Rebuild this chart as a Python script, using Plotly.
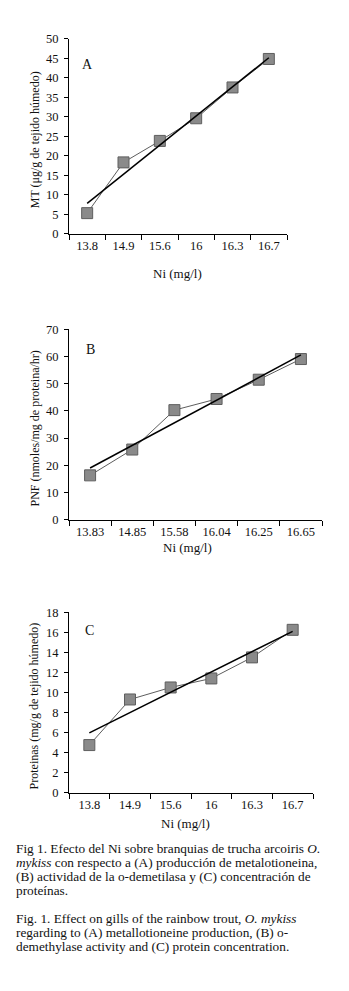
import plotly.graph_objects as go

# ---- data ----
cats_a = ["13.8", "14.9", "15.6", "16", "16.3", "16.7"]
mt_a = [5.3, 18.3, 23.8, 29.6, 37.5, 44.8]
trend_a = [7.8, 45.1]

cats_b = ["13.83", "14.85", "15.58", "16.04", "16.25", "16.65"]
pnf_b = [16.3, 25.8, 40.3, 44.4, 51.5, 59.1]
trend_b = [19.0, 60.6]

cats_c = ["13.8", "14.9", "15.6", "16", "16.3", "16.7"]
prot_c = [4.75, 9.3, 10.5, 11.4, 13.5, 16.25]
trend_c = [5.96, 16.1]

yticks_a = [0, 5, 10, 15, 20, 25, 30, 35, 40, 45, 50]
yticks_b = [0, 10, 20, 30, 40, 50, 60, 70]
yticks_c = [0, 2, 4, 6, 8, 10, 12, 14, 16, 18]

caption = [
    "Fig 1. Efecto del Ni sobre branquias de trucha arcoiris <i>O.</i>",
    "<i>mykiss</i> con respecto a (A) producción de metalotioneina,",
    "(B) actividad de la o-demetilasa y (C) concentración de",
    "proteínas.",
    "",
    "Fig. 1. Effect on gills of the rainbow trout, <i>O. mykiss</i>",
    "regarding to (A) metallotioneine production, (B) o-",
    "demethylase activity and (C) protein concentration.",
]

# page body has an 8px default margin: shrink the figure and shift coordinates
OFF = 8
W, H = 349 - 2 * OFF, 991 - 2 * OFF
FONT = "Liberation Serif, Times New Roman, serif"
INK = "#111111"


def px(xp):
    return (xp - OFF) / W


def py(yp):
    return 1 - (yp - OFF) / H


fig = go.Figure()

panels = [
    dict(cats=cats_a, vals=mt_a, trend=trend_a, ticks=yticks_a, rng=[0, 50],
         xd=[69, 287], yd=[32, 230], letter="A", ly=43.4,
         ytitle="MT (μg/g de tejido húmedo)", ytx=35, xt=(177, 270)),
    dict(cats=cats_b, vals=pnf_b, trend=trend_b, ticks=yticks_b, rng=[0, 70],
         xd=[69, 322], yd=[327, 520], letter="B", ly=62.5,
         ytitle="PNF (nmoles/mg de proteina/hr)", ytx=35, xt=(187, 548)),
    dict(cats=cats_c, vals=prot_c, trend=trend_c, ticks=yticks_c, rng=[0, 18],
         xd=[69, 313], yd=[614, 797], letter="C", ly=16.2,
         ytitle="Proteinas (mg/g de tejido húmedo)", ytx=34, xt=(185, 828)),
]

annotations = []
for i, p in enumerate(panels, start=1):
    sfx = "" if i == 1 else str(i)
    xa, ya = "x" + sfx, "y" + sfx
    # connecting line with square markers
    fig.add_trace(go.Scatter(
        x=p["cats"], y=p["vals"], mode="lines+markers", xaxis=xa, yaxis=ya,
        line=dict(color="#333333", width=0.8),
        marker=dict(symbol="square", size=11, color="#8a8a8a",
                    line=dict(color="#5e5e5e", width=1)),
        showlegend=False, hoverinfo="skip"))
    # regression line
    fig.add_trace(go.Scatter(
        x=[p["cats"][0], p["cats"][-1]], y=p["trend"], mode="lines",
        xaxis=xa, yaxis=ya, line=dict(color="#000000", width=1.5),
        showlegend=False, hoverinfo="skip"))
    axis_common = dict(showline=True, linecolor="#000000", linewidth=1,
                       showgrid=False, zeroline=False, ticks="outside",
                       tickcolor="#000000", tickwidth=1,
                       tickfont=dict(family=FONT, size=12.5, color=INK))
    fig.layout["xaxis" + sfx] = dict(
        domain=[px(p["xd"][0]), px(p["xd"][1])], anchor=ya, type="category",
        categoryorder="array", categoryarray=p["cats"],
        range=[-0.5, 5.5], tickson="boundaries", ticklen=5, **axis_common)
    fig.layout["yaxis" + sfx] = dict(
        domain=[py(p["yd"][1]), py(p["yd"][0])], anchor=xa, range=p["rng"],
        tickvals=p["ticks"], ticklen=4, ticklabelstandoff=3, **axis_common)
    # panel letter
    annotations.append(dict(x=0, y=p["ly"], xref=xa, yref=ya, text=p["letter"],
                            showarrow=False, xanchor="center", yanchor="middle",
                            font=dict(family=FONT, size=14, color=INK)))
    # y title
    annotations.append(dict(x=px(p["ytx"]), y=py((p["yd"][0] + p["yd"][1]) / 2 + 4),
                            xref="paper", yref="paper", text=p["ytitle"],
                            textangle=-90, showarrow=False,
                            xanchor="center", yanchor="middle",
                            font=dict(family=FONT, size=12, color=INK)))
    # x title
    annotations.append(dict(x=px(p["xt"][0]), y=py(p["xt"][1]),
                            xref="paper", yref="paper", text="Ni (mg/l)",
                            showarrow=False, xanchor="center", yanchor="middle",
                            font=dict(family=FONT, size=13, color=INK)))

# caption: one text block; base font sets a 14px line pitch, span sets glyph size
cap_text = "<br>".join(
    '<span style="font-size:13.3px">%s</span>' % t if t else " " for t in caption)
annotations.append(dict(x=px(15), y=py(845), xref="paper", yref="paper",
                        text=cap_text, showarrow=False, xanchor="left",
                        yanchor="top", align="left", borderpad=0,
                        font=dict(family=FONT, size=10.77, color=INK)))

fig.update_layout(
    width=W, height=H, margin=dict(l=0, r=0, t=0, b=0),
    paper_bgcolor="white", plot_bgcolor="white",
    annotations=annotations, showlegend=False,
    font=dict(family=FONT, color=INK),
)

fig.write_html("out.html")
